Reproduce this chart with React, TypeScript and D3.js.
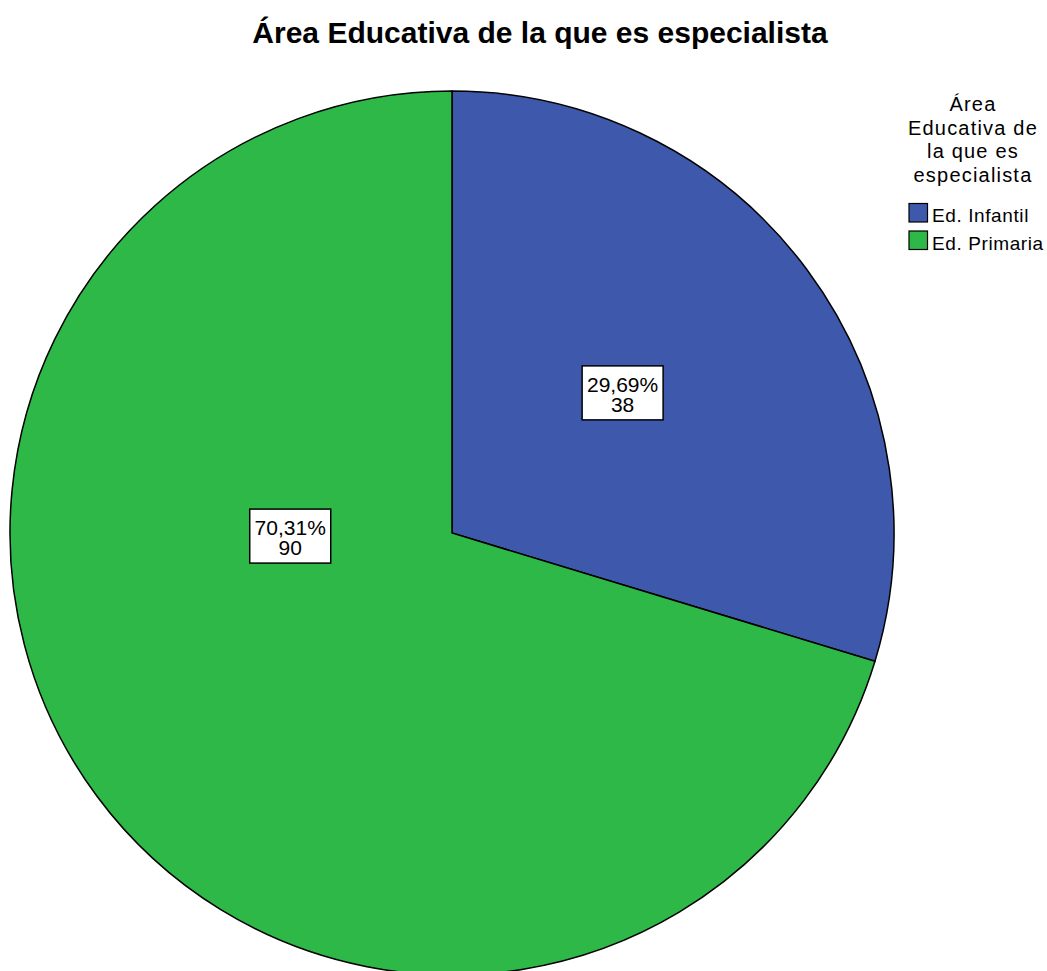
import React from "react";
import * as d3 from "d3";

const categories = ["Ed. Infantil", "Ed. Primaria"];
const counts = [38, 90];
const percentLabels = ["29,69%", "70,31%"];
const colors = ["#3E58AC", "#2EB848"];
const legendTitle = ["Área", "Educativa de", "la que es", "especialista"];
const chartTitle = "Área Educativa de la que es especialista";

// Label box anchor for each slice, as a fraction of the radius from the centre
const labelOffsets = [
  [0.386, -0.317],
  [-0.366, 0.007],
];

const W = 1047;
const H = 971;
const cx = 452;
const cy = 533;
const R = 442;
const FONT = "'Liberation Sans', Arial, sans-serif";

export default function App() {
  const pie = d3
    .pie<number>()
    .sort(null)
    .value((d) => d)(counts);
  const arc = d3.arc<d3.PieArcDatum<number>>().innerRadius(0).outerRadius(R);
  const r = d3.scaleLinear().domain([0, 1]).range([0, R]);

  return (
    <svg
      width={W}
      height={H}
      style={{ position: "absolute", left: 0, top: 0, background: "#fff" }}
      fontFamily={FONT}
    >
      <text
        x={540}
        y={43}
        textAnchor="middle"
        fontSize={30}
        fontWeight="bold"
        fill="#000"
      >
        {chartTitle}
      </text>

      <g transform={`translate(${cx},${cy})`}>
        {pie.map((p, i) => (
          <path
            key={i}
            d={arc(p) || ""}
            fill={colors[i]}
            stroke="#000"
            strokeWidth={1.5}
          />
        ))}
        {pie.map((p, i) => {
          const lx = r(labelOffsets[i][0]);
          const ly = r(labelOffsets[i][1]);
          const bw = 81;
          const bh = 54;
          return (
            <g key={"l" + i} transform={`translate(${lx},${ly})`}>
              <rect
                x={-bw / 2}
                y={-bh / 2}
                width={bw}
                height={bh}
                fill="#fff"
                stroke="#000"
                strokeWidth={1.5}
              />
              <text x={0} y={-1} textAnchor="middle" fontSize={21} fill="#000">
                {percentLabels[i]}
              </text>
              <text x={0} y={19} textAnchor="middle" fontSize={21} fill="#000">
                {counts[i]}
              </text>
            </g>
          );
        })}
      </g>

      <g>
        {legendTitle.map((t, i) => (
          <text
            key={t}
            x={973}
            y={111 + i * 23.5}
            textAnchor="middle"
            fontSize={20}
            letterSpacing={1.2}
            fill="#000"
          >
            {t}
          </text>
        ))}
        {categories.map((c, i) => (
          <g key={c} transform={`translate(909,${203.5 + i * 27.5})`}>
            <rect
              x={0}
              y={0}
              width={18.5}
              height={18.5}
              fill={colors[i]}
              stroke="#000"
              strokeWidth={1.2}
            />
            <text x={23} y={18.5} fontSize={19} letterSpacing={0.6} fill="#000">
              {c}
            </text>
          </g>
        ))}
      </g>
    </svg>
  );
}
